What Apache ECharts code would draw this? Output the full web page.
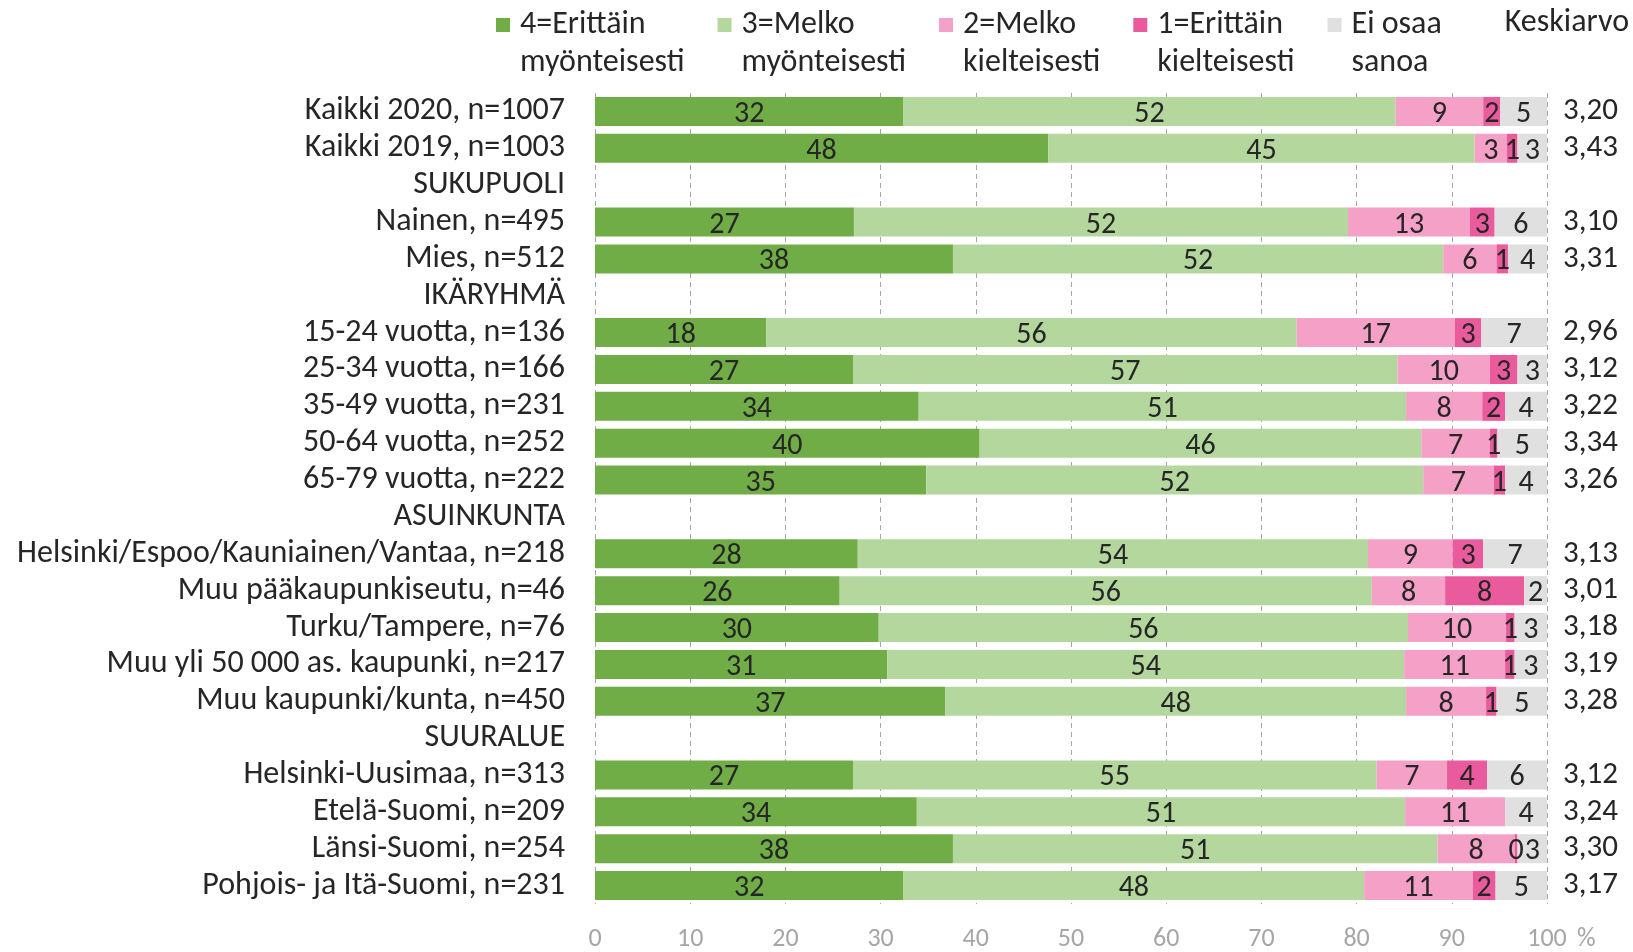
<!DOCTYPE html>
<html>
<head>
<meta charset="utf-8">
<script src="https://cdn.jsdelivr.net/npm/echarts@6/dist/echarts.min.js"></script>
<style>
  html, body { margin: 0; padding: 0; background: #fff; }
  #main { width: 1633px; height: 952px; }
</style>
</head>
<body>
<div id="main"></div>
<script>
// rivit ylhäältä alas, väliotsikoilla ei ole palkkia
var categories = ['Kaikki 2020, n=1007', 'Kaikki 2019, n=1003', 'SUKUPUOLI', 'Nainen, n=495', 'Mies, n=512',
  'IKÄRYHMÄ', '15-24 vuotta, n=136', '25-34 vuotta, n=166', '35-49 vuotta, n=231', '50-64 vuotta, n=252',
  '65-79 vuotta, n=222', 'ASUINKUNTA', 'Helsinki/Espoo/Kauniainen/Vantaa, n=218', 'Muu pääkaupunkiseutu, n=46',
  'Turku/Tampere, n=76', 'Muu yli 50 000 as. kaupunki, n=217', 'Muu kaupunki/kunta, n=450', 'SUURALUE',
  'Helsinki-Uusimaa, n=313', 'Etelä-Suomi, n=209', 'Länsi-Suomi, n=254', 'Pohjois- ja Itä-Suomi, n=231'];

var erittainMyont = [32.4, 47.6, null, 27.2, 37.6, null, 18.0, 27.1, 34.0, 40.4, 34.8, null, 27.6, 25.7, 29.8, 30.7, 36.8, null, 27.1, 33.8, 37.6, 32.4];
var melkoMyont    = [51.7, 44.8, null, 51.9, 51.5, null, 55.7, 57.2, 51.2, 46.4, 52.2, null, 53.6, 55.9, 55.6, 54.3, 48.4, null, 55.0, 51.3, 50.9, 48.4];
var melkoKielt    = [9.2, 3.4, null, 12.8, 5.6, null, 16.6, 9.7, 8.0, 7.2, 7.4, null, 8.9, 7.7, 10.3, 10.6, 8.4, null, 7.4, 10.5, 8.1, 11.4];
var erittainKielt = [1.8, 1.1, null, 2.6, 1.2, null, 2.8, 2.9, 2.4, 0.8, 1.2, null, 3.2, 8.3, 0.9, 1.0, 1.1, null, 4.2, 0, 0.3, 2.4];
var eiOsaa        = [4.9, 3.1, null, 5.5, 4.1, null, 6.9, 3.1, 4.4, 5.2, 4.4, null, 6.7, 2.4, 3.4, 3.4, 5.3, null, 6.3, 4.4, 3.1, 5.4];

var keskiarvo = ['3,20', '3,43', '', '3,10', '3,31', '', '2,96', '3,12', '3,22', '3,34', '3,26', '',
  '3,13', '3,01', '3,18', '3,19', '3,28', '', '3,12', '3,24', '3,30', '3,17'];

var xTicks = [0, 10, 20, 30, 40, 50, 60, 70, 80, 90, 100];

var font = 'Carlito, Lato, "Liberation Sans", sans-serif';
var textColor = '#262626';
var tickColor = '#a6a6a6';

function makeSeries(name, data, color) {
  return {
    name: name,
    type: 'bar',
    stack: 'yht',
    data: data,
    barWidth: 29,
    itemStyle: { color: color },
    label: {
      show: true,
      position: 'inside',
      offset: [0, 3],
      color: textColor,
      fontFamily: font,
      fontSize: 30,
      formatter: function (p) {
        if (p.value == null || p.value <= 0) return '';
        return String(Math.round(p.value));
      }
    },
    emphasis: { disabled: true }
  };
}

var chartDom = document.getElementById('main');
var myChart = echarts.init(chartDom);

var option = {
  animation: false,
  textStyle: { fontFamily: font },
  title: {
    text: 'Keskiarvo',
    right: 4,
    top: 7,
    padding: 0,
    textStyle: { fontFamily: font, fontSize: 32, fontWeight: 'normal', color: textColor }
  },
  legend: {
    left: 496,
    top: -32,
    padding: 0,
    itemWidth: 14,
    itemHeight: 14,
    itemGap: 33,
    icon: 'rect',
    selectedMode: false,
    // tyhjä ensimmäinen rivi -> ikoni osuu tekstin ylemmälle riville
    formatter: function (name) { return ' \n' + name; },
    textStyle: {
      fontFamily: font,
      fontSize: 32,
      color: textColor,
      lineHeight: 38,
      padding: [0, 0, 0, 5]
    },
    data: ['4=Erittäin\nmyönteisesti', '3=Melko\nmyönteisesti', '2=Melko\nkielteisesti', '1=Erittäin\nkielteisesti', 'Ei osaa\nsanoa']
  },
  grid: { left: 595, right: 86, top: 93, bottom: 46, containLabel: false },
  xAxis: {
    type: 'value',
    min: xTicks[0],
    max: xTicks[xTicks.length - 1],
    interval: 10,
    name: '%',
    nameLocation: 'end',
    nameGap: 30,
    nameTextStyle: { color: tickColor, fontFamily: font, fontSize: 26, verticalAlign: 'top', padding: [22, 0, 0, 0] },
    axisLine: { show: false },
    axisTick: { show: false },
    axisLabel: { color: tickColor, fontFamily: font, fontSize: 26, margin: 22 },
    splitLine: { show: true, lineStyle: { color: tickColor, type: [5, 4], width: 1 } }
  },
  yAxis: [
    {
      type: 'category',
      inverse: true,
      data: categories,
      axisLine: { show: false },
      axisTick: { show: false },
      axisLabel: { interval: 0, color: textColor, fontFamily: font, fontSize: 32, margin: 30, padding: [6, 0, 0, 0] }
    },
    {
      type: 'category',
      inverse: true,
      position: 'right',
      data: keskiarvo,
      axisLine: { show: false },
      axisTick: { show: false },
      axisLabel: { interval: 0, color: textColor, fontFamily: font, fontSize: 31, margin: 16, align: 'left', padding: [6, 0, 0, 0] }
    }
  ],
  series: [
    makeSeries('4=Erittäin\nmyönteisesti', erittainMyont, '#70ad47'),
    makeSeries('3=Melko\nmyönteisesti', melkoMyont, '#b4d79e'),
    makeSeries('2=Melko\nkielteisesti', melkoKielt, '#f4a0c7'),
    makeSeries('1=Erittäin\nkielteisesti', erittainKielt, '#ea5b9d'),
    makeSeries('Ei osaa\nsanoa', eiOsaa, '#e0e0e0')
  ]
};

myChart.setOption(option);
</script>
</body>
</html>
